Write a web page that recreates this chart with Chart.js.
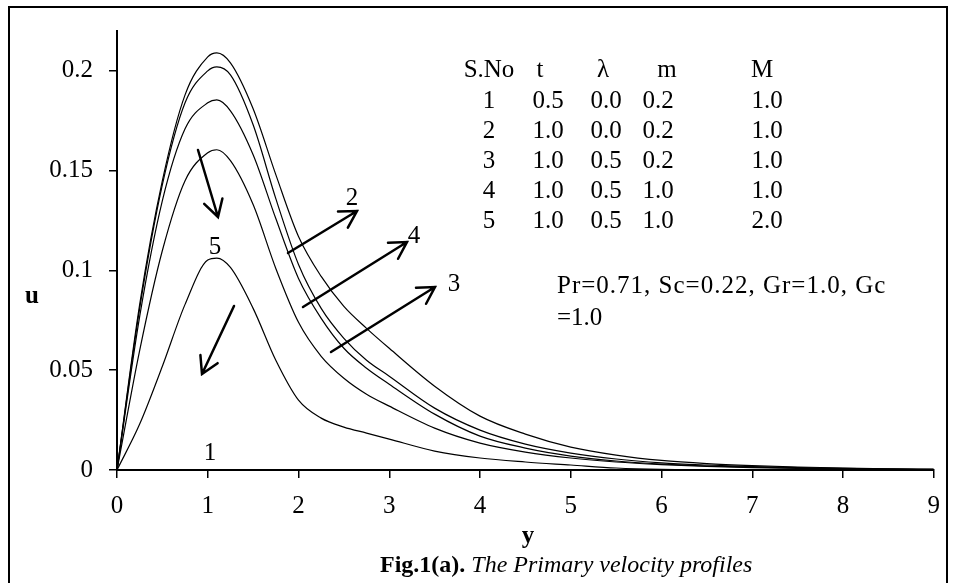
<!DOCTYPE html>
<html>
<head>
<meta charset="utf-8">
<script src="https://cdn.jsdelivr.net/npm/chart.js@4.4.1/dist/chart.umd.min.js"></script>
<style>
  html, body { margin: 0; padding: 0; background: #fff; }
  #wrap { position: relative; width: 953px; height: 583px; }
</style>
</head>
<body>
<div id="wrap"><canvas id="chart"></canvas></div>
<script>
/* ==================== DATA ==================== */

// positions along the y (distance) axis
const yCoords = [0, 0.25, 0.5, 0.75, 1, 1.1, 1.25, 1.5, 1.75, 2, 2.25, 2.5, 2.75, 3, 3.5, 4, 4.5, 5, 5.5, 6, 6.5, 7, 7.5, 8, 8.5, 9];

// velocity profiles u, ordered from the highest peak to the lowest
const uCurveA = [0, 0.083, 0.145, 0.188, 0.207, 0.209, 0.204, 0.181, 0.148, 0.117, 0.097, 0.082, 0.071, 0.061, 0.042, 0.027, 0.018, 0.0115, 0.0075, 0.0048, 0.0032, 0.0022, 0.0015, 0.001, 0.0006, 0.0004];
const uCurveB = [0, 0.081, 0.143, 0.184, 0.200, 0.202, 0.198, 0.173, 0.136, 0.103, 0.081, 0.066, 0.055, 0.047, 0.031, 0.020, 0.013, 0.0085, 0.0055, 0.0036, 0.0025, 0.0017, 0.0012, 0.0008, 0.0005, 0.0003];
const uCurveC = [0, 0.077, 0.135, 0.171, 0.184, 0.1855, 0.180, 0.158, 0.126, 0.096, 0.076, 0.061, 0.051, 0.043, 0.028, 0.017, 0.011, 0.007, 0.0045, 0.003, 0.002, 0.0014, 0.001, 0.0006, 0.0004, 0.0002];
const uCurveD = [0, 0.060, 0.110, 0.145, 0.159, 0.1605, 0.155, 0.133, 0.101, 0.074, 0.057, 0.046, 0.038, 0.032, 0.021, 0.0135, 0.009, 0.006, 0.004, 0.0027, 0.0018, 0.0012, 0.0008, 0.0005, 0.0003, 0.0002];
const uCurveE = [0, 0.023, 0.052, 0.083, 0.1052, 0.1062, 0.1015, 0.081, 0.055, 0.035, 0.026, 0.0215, 0.0185, 0.0155, 0.0095, 0.006, 0.004, 0.0025, 0.001, 0.0003, 0.0001, 0, 0, 0, 0, 0];

const xTickLabels = ['0', '1', '2', '3', '4', '5', '6', '7', '8', '9'];
const yTickLabels = ['0', '0.05', '0.1', '0.15', '0.2'];

// parameter table
const tableHeader = ['S.No', 't', 'λ', 'm', 'M'];
const tableRows = [
    ['1', '0.5', '0.0', '0.2', '1.0'],
    ['2', '1.0', '0.0', '0.2', '1.0'],
    ['3', '1.0', '0.5', '0.2', '1.0'],
    ['4', '1.0', '0.5', '1.0', '1.0'],
    ['5', '1.0', '0.5', '1.0', '2.0']
];
const paramLines = ['Pr=0.71, Sc=0.22, Gr=1.0, Gc', '=1.0'];

/* ==================== HELPERS ==================== */

const SERIF = '"Liberation Serif", "Times New Roman", serif';

function toPoints(values) {
    return yCoords.map((x, i) => ({ x: x, y: values[i] }));
}

function drawArrow(ctx, x1, y1, x2, y2) {
    const ang = Math.atan2(y2 - y1, x2 - x1);
    const len = 19, spread = Math.PI / 6;
    ctx.beginPath();
    ctx.moveTo(x1, y1);
    ctx.lineTo(x2, y2);
    ctx.moveTo(x2 - len * Math.cos(ang - spread), y2 - len * Math.sin(ang - spread));
    ctx.lineTo(x2, y2);
    ctx.lineTo(x2 - len * Math.cos(ang + spread), y2 - len * Math.sin(ang + spread));
    ctx.stroke();
}

// texts, arrows, table and frame drawn on top of the chart
const figureDecor = {
    id: 'figureDecor',
    afterDraw(chart) {
        const ctx = chart.ctx;
        ctx.save();
        ctx.fillStyle = '#000';
        ctx.strokeStyle = '#000';

        // outer frame
        ctx.lineWidth = 2;
        ctx.strokeRect(9, 7, 938, 600);

        // arrows
        ctx.lineWidth = 2.5;
        ctx.lineCap = 'round';
        drawArrow(ctx, 198, 150, 218, 217);
        drawArrow(ctx, 234, 306, 202, 374);
        drawArrow(ctx, 288, 253, 357, 211);
        drawArrow(ctx, 303, 307, 407, 242);
        drawArrow(ctx, 331, 352, 435, 287);

        ctx.textBaseline = 'middle';
        ctx.textAlign = 'center';
        ctx.font = '25px ' + SERIF;
        ctx.fillText('2', 352, 198);
        ctx.fillText('4', 414, 236);
        ctx.fillText('3', 454, 284);
        ctx.fillText('5', 215, 247);
        ctx.fillText('1', 210, 453);

        // table
        const colHead = [489, 540, 603, 667, 762];
        const colBody = [489, 548, 606, 658, 767];
        tableHeader.forEach((t, i) => ctx.fillText(t, colHead[i], 70));
        tableRows.forEach((row, r) => {
            row.forEach((t, i) => ctx.fillText(t, colBody[i], 101 + r * 30));
        });

        // parameters
        ctx.textAlign = 'left';
        ctx.letterSpacing = '1px';
        ctx.fillText(paramLines[0], 557, 286);
        ctx.letterSpacing = '0px';
        ctx.fillText(paramLines[1], 557, 318);

        // axis titles
        ctx.textAlign = 'center';
        ctx.font = 'bold 25px ' + SERIF;
        ctx.fillText('u', 32, 297);
        ctx.fillText('y', 528, 537);

        // caption
        ctx.textAlign = 'left';
        ctx.font = 'bold 24px ' + SERIF;
        const bold = 'Fig.1(a).';
        ctx.fillText(bold, 380, 566);
        const w = ctx.measureText(bold).width;
        ctx.font = 'italic 24px ' + SERIF;
        ctx.fillText(' The Primary velocity profiles', 380 + w, 566);

        ctx.restore();
    }
};

/* ==================== CHART ==================== */

const lineStyle = {
    borderColor: '#000',
    borderWidth: 1.2,
    pointRadius: 0,
    fill: false,
    cubicInterpolationMode: 'monotone'
};

new Chart(document.getElementById('chart'), {
    type: 'line',
    data: {
        datasets: [uCurveA, uCurveB, uCurveC, uCurveD, uCurveE].map(values => ({
            ...lineStyle,
            data: toPoints(values)
        }))
    },
    options: {
        responsive: true,
        maintainAspectRatio: false,
        animation: false,
        layout: {
            padding: { left: 0, right: 14, top: 30, bottom: 0 }
        },
        plugins: {
            legend: { display: false },
            tooltip: { enabled: false }
        },
        scales: {
            x: {
                type: 'linear',
                min: 0,
                max: 9,
                afterFit: s => { s.height = 113; },
                ticks: {
                    stepSize: 1,
                    color: '#000',
                    padding: 13,
                    font: { family: SERIF, size: 25 },
                    callback: (v) => xTickLabels[Math.round(v)]
                },
                grid: {
                    drawOnChartArea: false,
                    tickLength: 8,
                    color: '#000',
                    lineWidth: 1.5
                },
                border: { color: '#000', width: 2 }
            },
            y: {
                min: 0,
                max: 0.22,
                afterFit: s => { s.width = 117; },
                ticks: {
                    stepSize: 0.05,
                    includeBounds: false,
                    color: '#000',
                    padding: 16,
                    font: { family: SERIF, size: 25 },
                    callback: (v) => yTickLabels[Math.round(v / 0.05)]
                },
                grid: {
                    drawOnChartArea: false,
                    tickLength: 8,
                    color: '#000',
                    lineWidth: 1.5
                },
                border: { color: '#000', width: 2 }
            }
        }
    },
    plugins: [figureDecor]
});
</script>
</body>
</html>
